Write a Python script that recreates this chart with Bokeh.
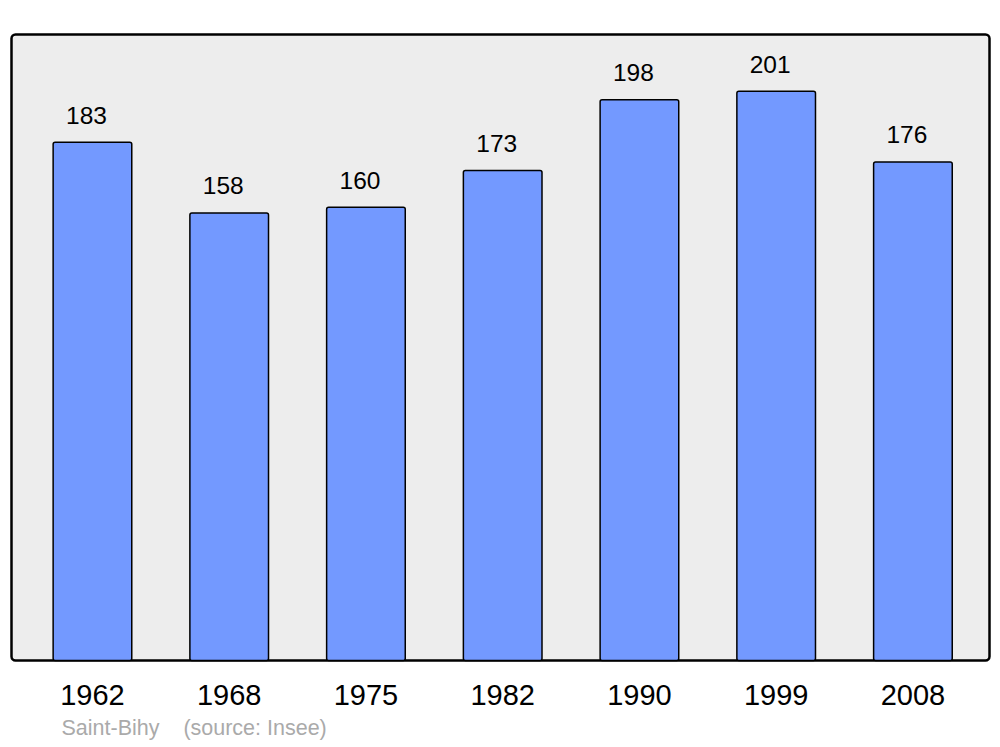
from bokeh.plotting import figure
from bokeh.models import FixedTicker, Title, ColumnDataSource, Range1d, BoxAnnotation
from bokeh.core.properties import value
from bokeh.embed import file_html
from bokeh.resources import INLINE

years = ["1962", "1968", "1975", "1982", "1990", "1999", "2008"]
population = [183, 158, 160, 173, 198, 201, 176]
commune = "Saint-Bihy"
source_note = "(source: Insee)"

FONT = "Liberation Sans"
idx = list(range(len(years)))

# panel bounds in data units
X_LO, X_HI = -0.592, 6.56
Y_LO, Y_HI = 0, 221
PAD = 2  # px of frame margin around the panel so its outline is not clipped
kx = (X_HI - X_LO) / 978
ky = (Y_HI - Y_LO) / 626

p = figure(width=1000, height=747, output_backend="svg", toolbar_location=None,
           x_range=Range1d(X_LO - PAD * kx, X_HI + PAD * kx),
           y_range=Range1d(Y_LO - PAD * ky, Y_HI + PAD * ky),
           min_border_left=11 - PAD, min_border_right=11 - PAD,
           min_border_top=34 - PAD, min_border_bottom=87 - PAD)
p.background_fill_color = "white"
p.border_fill_color = "white"
p.outline_line_color = None
p.grid.visible = False
p.yaxis.visible = False

frame_box = BoxAnnotation(left=X_LO, right=X_HI, bottom=Y_LO, top=Y_HI,
                          fill_color="#ededed", fill_alpha=1, line_color="black",
                          line_width=2.5, line_alpha=1, border_radius=4, level="underlay",
                          editable=False)
p.add_layout(frame_box)

src = ColumnDataSource(dict(x=idx, top=population, label=[str(v) for v in population]))
p.vbar(x="x", top="top", bottom=0, width=0.575, source=src,
       fill_color="#7399ff", line_color="black", line_width=1.5, border_radius=2)
p.text(x="x", y="top", text="label", source=src, x_offset=-6, y_offset=-27,
       text_align="center", text_baseline="alphabetic",
       text_font=value(FONT), text_font_size="24.5px", text_color="black")

ax = p.xaxis[0]
ax.ticker = FixedTicker(ticks=idx)
ax.major_label_overrides = {i: y for i, y in zip(idx, years)}
ax.axis_line_color = None
ax.major_tick_line_color = None
ax.minor_tick_line_color = None
ax.major_tick_out = 0
ax.major_tick_in = 0
ax.major_label_standoff = 22
ax.major_label_text_font = FONT
ax.major_label_text_font_size = "29px"
ax.major_label_text_color = "black"

p.add_layout(Title(text=commune + "\u00a0\u00a0\u00a0\u00a0" + source_note, align="left", offset=50 + PAD,
                   text_font=FONT, text_font_size="21.5px", text_font_style="normal",
                   text_color="#aaaaaa", standoff=12), "below")

open("out.html", "w").write(file_html(p, INLINE))
